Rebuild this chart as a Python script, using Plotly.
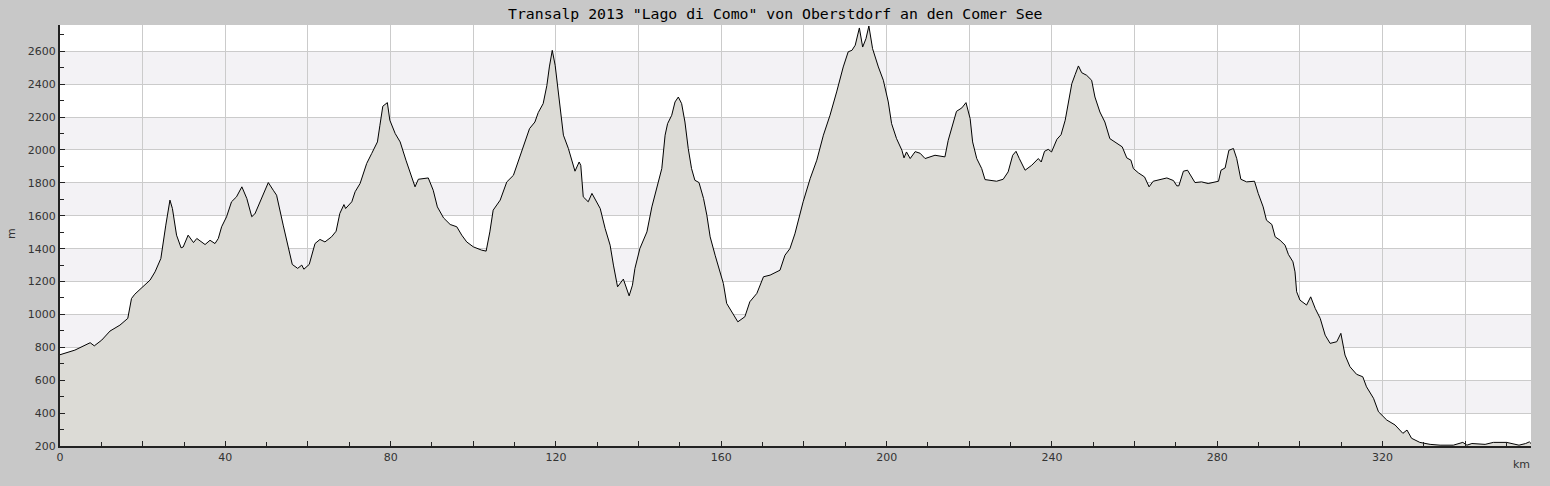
import plotly.graph_objects as go

km = [0, 3.6, 7.3, 8.3, 10.1, 12.1, 14.5, 16.4, 17.3, 18.1, 19.6, 21.8, 23.0, 24.4, 25.6, 26.6, 27.2, 28.2, 29.3, 29.8,
      31.0, 32.3, 33.1, 35.1, 36.3, 37.5, 38.3, 39.1, 40.3, 41.5, 42.7, 44.0, 45.2, 46.4, 47.2, 48.4, 49.2, 50.4, 51.6, 52.4,
      54.0, 55.2, 56.2, 57.5, 58.5, 59.0, 60.3, 61.7, 62.9, 64.1, 65.7, 66.8, 67.7, 68.7, 69.1, 70.6, 71.4, 72.6, 74.2, 75.4,
      76.8, 77.4, 78.1, 79.2, 79.8, 81.1, 82.3, 83.7, 84.7, 85.9, 86.7, 89.1, 90.3, 91.3, 92.8, 94.4, 96.0, 97.2, 98.4, 100.0,
      102.0, 103.1, 104.0, 104.8, 106.5, 108.1, 109.7, 110.5, 111.7, 113.6, 114.9, 115.7, 116.9, 117.8, 118.4, 119.1, 119.8, 121.0, 121.8, 123.0,
      124.2, 124.6, 125.6, 126.0, 126.6, 127.8, 128.7, 130.7, 131.9, 133.1, 133.9, 134.9, 136.3, 137.7, 138.5, 139.1, 140.3, 142.0, 143.2, 144.8,
      145.6, 146.4, 147.0, 148.0, 148.8, 149.6, 150.4, 151.2, 152.0, 152.8, 153.6, 154.6, 155.7, 156.5, 157.3, 158.5, 159.7, 160.5, 161.3, 162.5,
      164.0, 165.7, 166.9, 168.6, 170.2, 171.8, 174.2, 175.4, 176.6, 177.8, 179.8, 181.5, 183.1, 184.7, 186.3, 187.9, 189.5, 190.7, 191.6, 192.4,
      193.4, 194.2, 195.0, 195.7, 196.6, 198.0, 199.2, 200.4, 201.2, 202.4, 203.7, 204.2, 204.8, 205.7, 206.9, 208.1, 209.3, 211.7, 214.1, 214.9,
      216.1, 216.9, 218.2, 219.2, 220.2, 220.8, 221.8, 223.0, 223.8, 226.6, 228.2, 229.4, 230.5, 231.3, 232.1, 233.5, 235.1, 236.7, 237.4, 238.2,
      239.1, 239.9, 241.2, 242.2, 243.2, 244.0, 244.8, 245.6, 246.4, 247.2, 248.4, 249.6, 250.4, 251.6, 252.8, 254.0, 255.3, 257.0, 258.1, 259.1,
      259.7, 260.9, 262.4, 263.5, 264.5, 266.2, 267.8, 269.4, 270.2, 270.7, 271.8, 272.8, 274.6, 276.2, 277.8, 280.3, 280.9, 281.9, 282.8, 283.9,
      284.7, 285.7, 287.1, 289.0, 289.9, 291.1, 291.9, 293.2, 294.0, 295.2, 296.4, 297.2, 298.3, 298.8, 299.2, 300.0, 301.6, 302.6, 303.7, 304.9,
      306.1, 307.3, 308.9, 309.9, 310.9, 312.1, 313.7, 315.2, 316.1, 317.8, 319.0, 321.0, 323.0, 324.9, 325.9, 327.0, 329.0, 331.5, 333.9, 337.1,
      339.4, 340.4, 341.6, 344.8, 346.8, 350.0, 351.6, 353.0, 354.6, 355.5, 355.9]

elev = [755, 783, 828, 809, 844, 899, 935, 976, 1097, 1123, 1158, 1209, 1259, 1340, 1543, 1695, 1644, 1482, 1405, 1410,
        1482, 1437, 1462, 1425, 1451, 1431, 1462, 1533, 1594, 1685, 1715, 1776, 1705, 1594, 1614, 1685, 1725, 1802, 1755, 1725,
        1543, 1421, 1304, 1280, 1300, 1275, 1304, 1431, 1456, 1441, 1472, 1506, 1614, 1668, 1644, 1685, 1746, 1796, 1918, 1978,
        2049, 2150, 2266, 2288, 2181, 2100, 2049, 1938, 1867, 1776, 1822, 1830, 1755, 1654, 1587, 1547, 1533, 1482, 1441, 1411,
        1391, 1385, 1502, 1634, 1695, 1806, 1846, 1907, 1988, 2130, 2170, 2227, 2282, 2393, 2505, 2606, 2515, 2272, 2090, 2009,
        1907, 1871, 1927, 1907, 1715, 1685, 1736, 1644, 1522, 1421, 1300, 1168, 1215, 1113, 1178, 1280, 1401, 1502, 1654, 1806,
        1887, 2090, 2160, 2211, 2292, 2322, 2282, 2170, 2009, 1887, 1816, 1802, 1705, 1604, 1472, 1360, 1259, 1188, 1067, 1016,
        955, 986, 1077, 1128, 1229, 1239, 1269, 1360, 1400, 1490, 1685, 1826, 1938, 2090, 2211, 2353, 2505, 2597, 2606, 2637,
        2742, 2626, 2677, 2754, 2616, 2505, 2424, 2292, 2160, 2069, 1998, 1952, 1988, 1948, 1990, 1980, 1948, 1968, 1958, 2059,
        2170, 2235, 2256, 2288, 2191, 2049, 1948, 1887, 1820, 1810, 1822, 1867, 1968, 1992, 1948, 1877, 1907, 1948, 1927, 1992,
        2004, 1988, 2065, 2093, 2181, 2282, 2403, 2458, 2511, 2470, 2454, 2424, 2322, 2231, 2170, 2069, 2049, 2019, 1952, 1938,
        1887, 1861, 1836, 1776, 1810, 1822, 1830, 1814, 1782, 1782, 1871, 1877, 1802, 1806, 1796, 1810, 1877, 1891, 1998, 2009,
        1948, 1822, 1806, 1810, 1736, 1654, 1573, 1547, 1472, 1451, 1421, 1365, 1320, 1259, 1138, 1087, 1057, 1107, 1036, 976,
        874, 824, 834, 885, 753, 682, 636, 621, 560, 490, 408, 358, 328, 277, 297, 247, 222, 210, 205, 205,
        222, 205, 215, 210, 222, 222, 215, 205, 215, 225, 215]

x_major = [0, 20, 40, 60, 80, 100, 120, 140, 160, 180, 200, 220, 240, 260, 280, 300, 320, 340]
x_labels = ["0", "", "40", "", "80", "", "120", "", "160", "", "200", "", "240", "", "280", "", "320", ""]
y_major = [200, 400, 600, 800, 1000, 1200, 1400, 1600, 1800, 2000, 2200, 2400, 2600]
band_ranges = [(400, 600), (800, 1000), (1200, 1400), (1600, 1800), (2000, 2200), (2400, 2600)]

title_text = 'Transalp 2013 "Lago di Como" von Oberstdorf an den Comer See'

fig = go.Figure()
fig.add_trace(go.Scatter(
    x=km, y=elev, mode="lines", fill="tozeroy",
    fillcolor="#dcdbd6", line=dict(color="#000000", width=1),
    hoverinfo="skip", showlegend=False,
))

shapes = []
for lo, hi in band_ranges:
    shapes.append(dict(type="rect", xref="paper", yref="y", x0=0, x1=1, y0=lo, y1=hi,
                       fillcolor="#f3f2f5", line=dict(width=0), layer="below"))

L, R, T, B = 60, 19, 25, 40
W, H = 1550, 486
pw = W - L - R
ph = H - T - B

fig.update_layout(
    width=W, height=H,
    margin=dict(l=L, r=R, t=T, b=B),
    paper_bgcolor="#c8c8c8", plot_bgcolor="#ffffff",
    shapes=shapes,
    font=dict(family="DejaVu Sans", size=11, color="#333333"),
    xaxis=dict(
        range=[0, 355.9], tickmode="array", tickvals=x_major, ticktext=x_labels,
        showgrid=True, gridcolor="#cbcbcb", gridwidth=1,
        ticks="inside", ticklen=5, tickcolor="#222222", tickwidth=1,
        showline=True, linecolor="#222222", linewidth=2,
        zeroline=False,
        minor=dict(tickmode="linear", tick0=0, dtick=10, ticks="inside", ticklen=4,
                   tickcolor="#222222", showgrid=False),
        tickfont=dict(family="DejaVu Sans", size=11, color="#333333"),
    ),
    yaxis=dict(
        range=[200, 2760], tickmode="array", tickvals=y_major,
        showgrid=True, gridcolor="#cbcbcb", gridwidth=1,
        ticks="inside", ticklen=5, tickcolor="#222222", tickwidth=1,
        showline=True, linecolor="#222222", linewidth=2,
        zeroline=False,
        minor=dict(tickmode="linear", tick0=0, dtick=100, ticks="inside", ticklen=4,
                   tickcolor="#222222", showgrid=False),
        tickfont=dict(family="DejaVu Sans", size=11, color="#333333"),
    ),
    annotations=[
        dict(text=title_text, xref="paper", yref="paper",
             x=(775 - L) / pw, y=(H - 14 - B) / ph, xanchor="center", yanchor="middle",
             showarrow=False, font=dict(family="DejaVu Sans Mono", size=14.8, color="#000000")),
        dict(text="m", xref="paper", yref="paper", textangle=-90,
             x=(11 - L) / pw, y=(H - 234 - B) / ph, xanchor="center", yanchor="middle",
             showarrow=False, font=dict(family="DejaVu Sans", size=11, color="#333333")),
        dict(text="km", xref="paper", yref="paper",
             x=(1521 - L) / pw, y=(H - 465 - B) / ph, xanchor="center", yanchor="middle",
             showarrow=False, font=dict(family="DejaVu Sans", size=11, color="#333333")),
    ],
)

fig.write_html("out.html", config={"displayModeBar": False},
               post_script="document.body.style.margin='0';document.body.style.padding='0';document.body.style.overflow='hidden';")
